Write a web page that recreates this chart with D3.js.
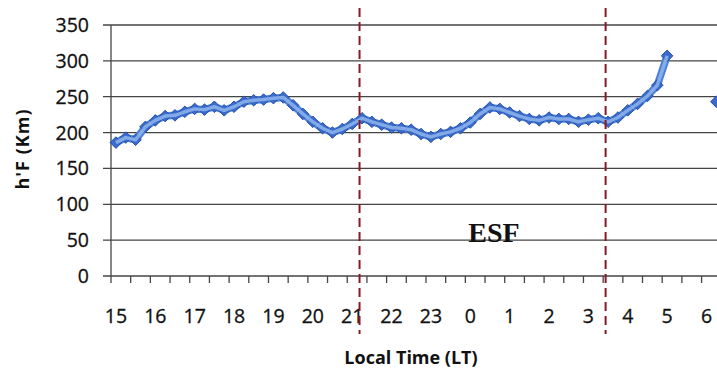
<!DOCTYPE html>
<html>
<head>
<meta charset="utf-8">
<script src="https://cdn.jsdelivr.net/npm/d3@7"></script>
<style>
  body { margin: 0; background: #fff; }
  svg { display: block; }
</style>
</head>
<body>
<div id="chart"></div>
<script>
'use strict';

// 15-minute categories, 15:00 LT to 06:45 LT next day
var times = [
  "15:00","15:15","15:30","15:45","16:00","16:15","16:30","16:45",
  "17:00","17:15","17:30","17:45","18:00","18:15","18:30","18:45",
  "19:00","19:15","19:30","19:45","20:00","20:15","20:30","20:45",
  "21:00","21:15","21:30","21:45","22:00","22:15","22:30","22:45",
  "23:00","23:15","23:30","23:45","00:00","00:15","00:30","00:45",
  "01:00","01:15","01:30","01:45","02:00","02:15","02:30","02:45",
  "03:00","03:15","03:30","03:45","04:00","04:15","04:30","04:45",
  "05:00","05:15","05:30","05:45","06:00","06:15","06:30","06:45"
];

// h'F (km), null = no data
var hfValues = [
  186, 193, 190, 208, 217, 223, 224, 229,
  233, 232, 236, 231, 236, 243, 245, 246,
  248, 249, 238, 226, 215, 206, 200, 205,
  212, 220, 215, 211, 207, 206, 204, 198,
  194, 198, 201, 206, 214, 226, 235, 233,
  228, 223, 219, 217, 221, 219, 219, 215,
  218, 220, 215, 221, 231, 240, 251, 266,
  307, null, null, null, null, 243, null, null
];

var hourTimes = ["15:00","16:00","17:00","18:00","19:00","20:00","21:00","22:00",
                 "23:00","00:00","01:00","02:00","03:00","04:00","05:00","06:00"];
var hourLabels = ["15","16","17","18","19","20","21","22","23","0","1","2","3","4","5","6"];
var yTicks = [0, 50, 100, 150, 200, 250, 300, 350];

// ESF period markers
var esfStart = "21:15";
var esfEnd = "03:30";
var esfLabel = "ESF";

var width = 717, height = 376;
var step = 9.843;
var left = 111;

var data = times.map(function(t, i) { return { t: t, v: hfValues[i] }; });

var svg = d3.select('#chart').append('svg')
    .attr('width', width)
    .attr('height', height);

var x = d3.scaleBand()
    .domain(times)
    .range([left, left + times.length * step])
    .padding(0);

var y = d3.scaleLinear()
    .domain([0, 350])
    .range([276, 25]);

var bw = x.bandwidth();

// horizontal gridlines
svg.append('g').selectAll('line')
    .data(yTicks)
    .enter().append('line')
    .attr('x1', left - 8)
    .attr('x2', width)
    .attr('y1', function(d) { return y(d); })
    .attr('y2', function(d) { return y(d); })
    .style('stroke', '#454545')
    .style('stroke-width', 1.3);

// y axis line
svg.append('line')
    .attr('x1', left).attr('x2', left)
    .attr('y1', y(350)).attr('y2', y(0))
    .style('stroke', '#454545')
    .style('stroke-width', 1.3);

// y tick labels
svg.append('g').selectAll('text')
    .data(yTicks)
    .enter().append('text')
    .attr('x', 89)
    .attr('y', function(d) { return y(d); })
    .attr('dy', '0.36em')
    .attr('text-anchor', 'end')
    .style('font-family', '"Open Sans", sans-serif')
    .style('font-size', '19.5px')
    .style('fill', '#111')
    .style('stroke', '#111')
    .style('stroke-width', 0.3)
    .text(function(d) { return d; });

// x tick marks every two categories
svg.append('g').selectAll('line')
    .data(times.filter(function(d, i) { return i % 2 === 0; }))
    .enter().append('line')
    .attr('x1', function(d) { return x(d); })
    .attr('x2', function(d) { return x(d); })
    .attr('y1', y(0))
    .attr('y2', y(0) + 7)
    .style('stroke', '#454545')
    .style('stroke-width', 1.3);

// x labels on the hours
svg.append('g').selectAll('text')
    .data(hourTimes)
    .enter().append('text')
    .attr('x', function(d) { return x(d) + bw / 2; })
    .attr('y', 323)
    .attr('text-anchor', 'middle')
    .style('font-family', '"Open Sans", sans-serif')
    .style('font-size', '19.5px')
    .style('fill', '#111')
    .style('stroke', '#111')
    .style('stroke-width', 0.3)
    .text(function(d, i) { return hourLabels[i]; });

// axis titles
svg.append('text')
    .attr('transform', 'translate(29,149) rotate(-90)')
    .attr('text-anchor', 'middle')
    .style('font-family', '"Open Sans", sans-serif')
    .style('font-weight', 'bold')
    .style('font-size', '18px')
    .style('letter-spacing', '1px')
    .style('fill', '#111')
    .text("h'F (Km)");

svg.append('text')
    .attr('x', 411)
    .attr('y', 364)
    .attr('text-anchor', 'middle')
    .style('font-family', '"Open Sans", sans-serif')
    .style('font-weight', 'bold')
    .style('font-size', '18px')
    .style('fill', '#111')
    .text('Local Time (LT)');

// data line
var line = d3.line()
    .defined(function(d) { return d.v != null; })
    .x(function(d) { return x(d.t) + bw / 2; })
    .y(function(d) { return y(d.v); });

svg.append('path')
    .datum(data)
    .attr('d', line)
    .style('fill', 'none')
    .style('stroke', '#4d80d8')
    .style('stroke-width', 7.5)
    .style('stroke-linejoin', 'round');

var diamond = d3.symbol().type(d3.symbolDiamond2).size(85);

svg.append('g').selectAll('path')
    .data(data.filter(function(d) { return d.v != null; }))
    .enter().append('path')
    .attr('d', diamond)
    .attr('transform', function(d) {
        return 'translate(' + (x(d.t) + bw / 2) + ',' + y(d.v) + ')';
    })
    .style('fill', '#3a6bcc')
    .style('stroke', '#2350aa')
    .style('stroke-width', 1);

// light highlight along the line
svg.append('path')
    .datum(data)
    .attr('d', line)
    .style('fill', 'none')
    .style('stroke', '#8fb5ec')
    .style('stroke-width', 3.5)
    .style('stroke-opacity', 0.85)
    .style('stroke-linejoin', 'round');

// ESF boundaries
svg.append('g').selectAll('line')
    .data([esfStart, esfEnd])
    .enter().append('line')
    .attr('x1', function(d) { return x(d) + bw * 0.25; })
    .attr('x2', function(d) { return x(d) + bw * 0.25; })
    .attr('y1', 8)
    .attr('y2', 334)
    .style('stroke', '#861a28')
    .style('stroke-width', 2)
    .style('stroke-dasharray', '9,5');

svg.append('text')
    .attr('x', (x(esfStart) + x(esfEnd)) / 2 + bw * 1.4)
    .attr('y', y(50) + 2)
    .attr('text-anchor', 'middle')
    .style('font-family', '"Liberation Serif", "Times New Roman", serif')
    .style('font-weight', 'bold')
    .style('font-size', '28px')
    .style('fill', '#111')
    .text(esfLabel);
</script>
</body>
</html>
